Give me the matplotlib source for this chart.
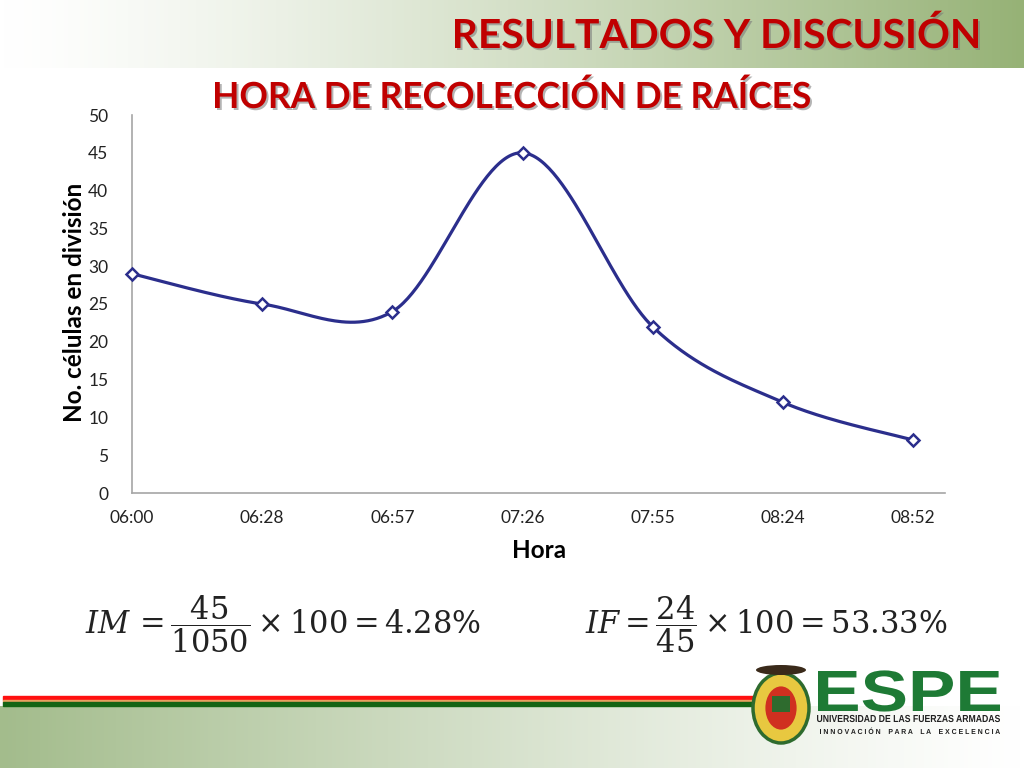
import numpy as np
import matplotlib
matplotlib.use("Agg")
from matplotlib import pyplot as plt
from matplotlib.font_manager import FontProperties
from matplotlib.patches import Ellipse, Rectangle, PathPatch
from matplotlib.textpath import TextPath
from matplotlib.transforms import Affine2D

# data
horas = ["06:00", "06:28", "06:57", "07:26", "07:55", "08:24", "08:52"]
celulas = [29, 25, 24, 45, 22, 12, 7]
y_ticks = [0, 5, 10, 15, 20, 25, 30, 35, 40, 45, 50]

NAVY = "#2B2E8C"
DARK_RED = "#C00000"
GREEN = "#1E7A35"


def excel_smooth(x, y, n=60):
    # bezier curve through the points, like excel's "smoothed line"
    x = np.asarray(x, float)
    y = np.asarray(y, float)
    px = np.r_[x[0], x, x[-1]]
    py = np.r_[y[0], y, y[-1]]
    out_x, out_y = [], []
    t = np.linspace(0, 1, n)
    for i in range(1, len(px) - 2):
        p1 = np.array([px[i], py[i]])
        p2 = np.array([px[i + 1], py[i + 1]])
        c1 = p1 + (np.array([px[i + 1], py[i + 1]]) - np.array([px[i - 1], py[i - 1]])) / 6
        c2 = p2 - (np.array([px[i + 2], py[i + 2]]) - np.array([px[i], py[i]])) / 6
        b = ((1 - t) ** 3)[:, None] * p1 + (3 * (1 - t) ** 2 * t)[:, None] * c1 \
            + (3 * (1 - t) * t ** 2)[:, None] * c2 + (t ** 3)[:, None] * p2
        out_x.append(b[:, 0])
        out_y.append(b[:, 1])
    return np.concatenate(out_x), np.concatenate(out_y)


def fitted_text(ax, s, x0, x1, baseline, cap, color, family="Lato", weight="bold", shadow=None):
    # text squeezed into a box given in pixels (x0..x1 wide, cap height `cap`)
    prop = FontProperties(family=family, weight=weight)
    tp = TextPath((0, 0), s, size=100, prop=prop)
    ext = tp.get_extents()
    cap_h = TextPath((0, 0), "H", size=100, prop=prop).get_extents().y1
    sx = (x1 - x0) / ext.width
    sy = cap / cap_h
    if shadow:
        tr = Affine2D().translate(-ext.x0, 0).scale(sx, -sy).translate(x0 + shadow[0], baseline + shadow[1])
        ax.add_patch(PathPatch(tp, transform=tr + ax.transData, fc="#777777", ec="none", alpha=0.55))
    tr = Affine2D().translate(-ext.x0, 0).scale(sx, -sy).translate(x0, baseline)
    ax.add_patch(PathPatch(tp, transform=tr + ax.transData, fc=color, ec="none"))


fig = plt.figure(figsize=(10.24, 7.68), dpi=100)

# slide background (pixel coordinates)
bg = fig.add_axes([0, 0, 1, 1], zorder=-5)
bg.axis("off")

white = np.array([1.0, 1.0, 1.0])
green_top = np.array([150, 178, 118]) / 255
green_bot = np.array([163, 188, 140]) / 255

g = np.linspace(0, 1, 256) ** 1.3
top_grad = white[None, :] * (1 - g[:, None]) + green_top[None, :] * g[:, None]
bg.imshow(top_grad[None, :, :], extent=[0, 1024, 68, 0], aspect="auto")

g2 = np.linspace(1, 0, 256) ** 1.2
bot_grad = white[None, :] * (1 - g2[:, None]) + green_bot[None, :] * g2[:, None]
bg.imshow(bot_grad[None, :, :], extent=[0, 1024, 768, 706], aspect="auto")
bg.set_xlim(0, 1024)
bg.set_ylim(768, 0)

# red / green stripes at the bottom
bg.add_patch(Rectangle((3, 696), 752, 4, color="#FF1010"))
bg.add_patch(Rectangle((3, 700), 752, 2, color="#E8A060"))
bg.add_patch(Rectangle((3, 702), 752, 4, color="#146414"))

# titles
fitted_text(bg, "RESULTADOS Y DISCUSIÓN", 455, 978, 48, 29, DARK_RED, shadow=(2, 2))
fitted_text(bg, "HORA DE RECOLECCIÓN DE RAÍCES", 215, 810, 108, 26, DARK_RED, shadow=(2, 2))

# chart
ax = fig.add_axes([132 / 1024, 1 - 493 / 768, 813 / 1024, 378 / 768])
x = np.arange(len(horas))
sx, sy = excel_smooth(x, celulas)
ax.plot(sx, sy, color=NAVY, lw=2.3, zorder=3, clip_on=False)
ax.plot(x, celulas, ls="none", marker="D", ms=6, mfc="white", mec=NAVY, mew=1.8,
        zorder=4, clip_on=False)

ax.set_xlim(0, 813 / 130.17)
ax.set_ylim(0, 50)
ax.set_xticks(x)
ax.set_xticklabels(horas)
ax.set_yticks(y_ticks)
ax.tick_params(length=0, labelsize=12.5, colors="#222222")
ax.tick_params(axis="y", pad=17)
ax.tick_params(axis="x", pad=12)
for lab in ax.get_xticklabels() + ax.get_yticklabels():
    lab.set_family("Lato")
for s in ["top", "right"]:
    ax.spines[s].set_visible(False)
for s in ["left", "bottom"]:
    ax.spines[s].set_color("#A6A6A6")
    ax.spines[s].set_linewidth(1.2)
ax.set_facecolor("none")

fig.text(75 / 1024, 1 - 302 / 768, "No. células en división", rotation=90, ha="center",
         va="center", fontsize=17.5, fontweight="bold", family="Lato")
fig.text(539 / 1024, 1 - 551 / 768, "Hora", ha="center", va="center", fontsize=17.5,
         fontweight="bold", family="Lato")

# formulas
plt.rcParams["mathtext.fontset"] = "dejavuserif"
fig.text(85 / 1024, 1 - 624 / 768, r"$IM\,=\dfrac{45}{1050}\times100=4.28\%$", ha="left",
         va="center", fontsize=22, color="#222222")
fig.text(585 / 1024, 1 - 624 / 768, r"$IF=\dfrac{24}{45}\times100=53.33\%$", ha="left",
         va="center", fontsize=22, color="#222222")

# ESPE logo (simplified)
bg.add_patch(Ellipse((781, 708), 56, 70, facecolor="#E8C840", edgecolor="#2E6B2E", lw=2.5))
bg.add_patch(Ellipse((781, 708), 34, 46, facecolor="#D03020", edgecolor="#E8C840", lw=2))
bg.add_patch(Rectangle((772, 696), 18, 16, facecolor="#2E6B2E"))
bg.add_patch(Ellipse((781, 670), 50, 10, facecolor="#3A2A1A"))
fitted_text(bg, "ESPE", 818, 1000, 711, 40, GREEN, family="Liberation Sans")
fitted_text(bg, "UNIVERSIDAD DE LAS FUERZAS ARMADAS", 817, 1000, 722, 7, "#222222",
            family="Liberation Sans")
fitted_text(bg, "I N N O V A C I Ó N    P A R A    L A    E X C E L E N C I A", 820, 1000, 734, 5,
            "#222222", family="Liberation Sans")

fig.savefig("out.png", dpi=100)
